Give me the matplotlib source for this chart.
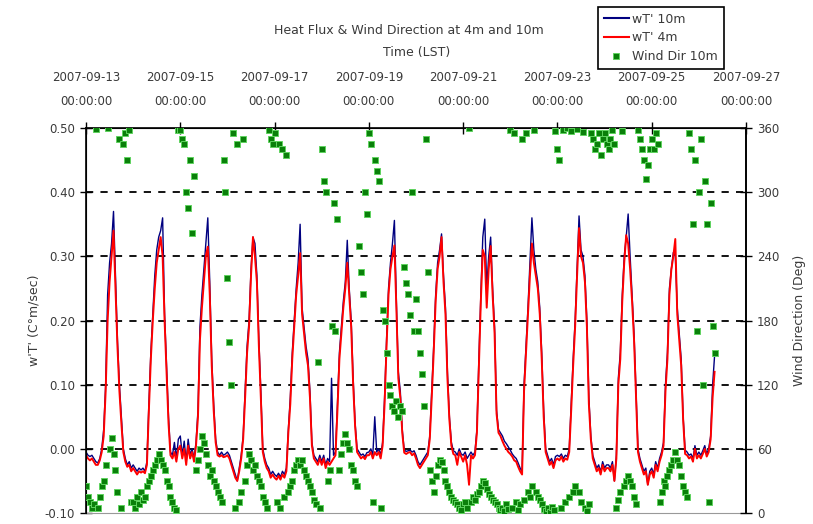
import numpy as np
import pandas as pd
import matplotlib
matplotlib.use("Agg")
import matplotlib.pyplot as plt
from matplotlib.lines import Line2D

# hourly values from 2007-09-13 00:00 (LST), one row per day
wt_10m = [
    -0.005, -0.01, -0.012, -0.01, -0.015, -0.02, -0.022, -0.015, 0.0, 0.03, 0.10, 0.24, 0.29, 0.32, 0.37, 0.27, 0.17, 0.10, 0.05, 0.0, -0.015, -0.025, -0.02, -0.03,  # 13
    -0.025, -0.03, -0.035, -0.03, -0.033, -0.03, -0.035, -0.02, 0.07, 0.15, 0.21, 0.27, 0.31, 0.33, 0.34, 0.36, 0.21, 0.13, 0.05, -0.005, -0.01, 0.01, -0.015, 0.015,  # 14
    0.02, -0.01, 0.012, -0.02, 0.015, -0.01, 0.0, -0.015, 0.01, 0.06, 0.19, 0.24, 0.28, 0.32, 0.36, 0.26, 0.14, 0.07, 0.015, -0.005, -0.01, -0.005, -0.01, -0.008,  # 15
    -0.005, -0.01, -0.02, -0.03, -0.04, -0.05, -0.03, -0.01, 0.02, 0.09, 0.16, 0.20, 0.28, 0.33, 0.32, 0.27, 0.17, 0.09, 0.0, -0.015, -0.025, -0.03, -0.04, -0.035,  # 16
    -0.04, -0.043, -0.038, -0.044, -0.035, -0.04, -0.03, 0.03, 0.08, 0.15, 0.20, 0.25, 0.29, 0.35, 0.22, 0.19, 0.16, 0.14, 0.09, 0.01, -0.01, -0.015, -0.02, -0.01,  # 17
    -0.02, -0.01, -0.025, -0.015, -0.02, 0.11, -0.01, -0.005, 0.07, 0.15, 0.19, 0.23, 0.26, 0.325, 0.25, 0.20, 0.11, 0.04, 0.0, -0.005, -0.01, -0.008, -0.012, -0.006,  # 18
    -0.005, 0.0, -0.01, 0.05, -0.005, 0.0, -0.01, 0.01, 0.08, 0.17, 0.25, 0.29, 0.32, 0.356, 0.23, 0.12, 0.09, 0.03, -0.002, -0.004, -0.003, -0.002, -0.005, -0.003,  # 19
    -0.01, -0.02, -0.025, -0.02, -0.015, -0.01, -0.005, 0.02, 0.09, 0.16, 0.24, 0.29, 0.31, 0.335, 0.27, 0.22, 0.12, 0.05, 0.01, -0.003, -0.005, -0.01, 0.0, -0.008,  # 20
    -0.01, -0.005, -0.015, -0.01, -0.005, -0.01, -0.005, 0.03, 0.14, 0.24, 0.33, 0.358, 0.25, 0.30, 0.33, 0.25, 0.19, 0.06, 0.03, 0.025, 0.02, 0.012, 0.008, 0.003,  # 21
    -0.002, -0.008, -0.012, -0.015, -0.022, -0.03, -0.036, 0.10, 0.16, 0.22, 0.29, 0.36, 0.31, 0.28, 0.26, 0.22, 0.15, 0.06, 0.0, -0.01, -0.02, -0.015, -0.025, -0.012,  # 22
    -0.01, -0.012, -0.008, -0.015, -0.01, -0.012, 0.0, 0.07, 0.14, 0.20, 0.28, 0.363, 0.31, 0.30, 0.27, 0.20, 0.08, 0.02, -0.01, -0.02, -0.03, -0.025, -0.036, -0.02,  # 23
    -0.03, -0.025, -0.025, -0.03, -0.02, -0.05, -0.01, 0.11, 0.15, 0.24, 0.30, 0.33, 0.366, 0.30, 0.24, 0.18, 0.09, 0.0, -0.015, -0.025, -0.035, -0.03, -0.056, -0.035,  # 24
    -0.03, -0.04, -0.02, -0.03, -0.015, -0.005, 0.01, 0.10, 0.15, 0.25, 0.28, 0.306, 0.30, 0.22, 0.18, 0.14, 0.05, -0.002, -0.005, -0.01, -0.008, -0.015, 0.005, -0.01,  # 25
    -0.005, -0.01, -0.003, 0.005, -0.008, 0.0, 0.02, 0.10, 0.145,  # 26
]

wt_4m = [
    -0.01, -0.015, -0.018, -0.015, -0.02, -0.025, -0.025, -0.018, -0.005, 0.02, 0.09, 0.20, 0.26, 0.30, 0.34, 0.25, 0.16, 0.09, 0.04, -0.005, -0.02, -0.028, -0.025, -0.035,
    -0.03, -0.035, -0.04, -0.035, -0.037, -0.035, -0.038, -0.025, 0.06, 0.14, 0.20, 0.25, 0.29, 0.31, 0.33, 0.30, 0.20, 0.12, 0.04, -0.01, -0.015, -0.005, -0.02, 0.0,
    0.005, -0.015, 0.0, -0.025, 0.005, -0.015, -0.005, -0.02, 0.005, 0.05, 0.17, 0.22, 0.26, 0.30, 0.315, 0.24, 0.13, 0.06, 0.01, -0.01, -0.012, -0.01, -0.013, -0.012,
    -0.01, -0.015, -0.025, -0.035, -0.045, -0.05, -0.035, -0.015, 0.015, 0.08, 0.15, 0.19, 0.27, 0.33, 0.30, 0.26, 0.16, 0.08, -0.005, -0.02, -0.03, -0.035, -0.045, -0.04,
    -0.045, -0.048, -0.042, -0.048, -0.04, -0.045, -0.035, 0.025, 0.07, 0.14, 0.19, 0.24, 0.27, 0.305, 0.21, 0.18, 0.15, 0.13, 0.08, 0.005, -0.015, -0.02, -0.025, -0.015,
    -0.025, -0.015, -0.03, -0.02, -0.025, -0.02, -0.015, -0.01, 0.06, 0.14, 0.18, 0.22, 0.25, 0.29, 0.24, 0.19, 0.10, 0.035, -0.005, -0.01, -0.015, -0.012, -0.016, -0.01,
    -0.01, -0.005, -0.015, -0.005, -0.01, -0.005, -0.015, 0.005, 0.07, 0.16, 0.24, 0.28, 0.30, 0.317, 0.22, 0.11, 0.08, 0.025, -0.006, -0.008, -0.006, -0.005, -0.01, -0.007,
    -0.015, -0.025, -0.03, -0.025, -0.02, -0.015, -0.01, 0.015, 0.08, 0.15, 0.23, 0.28, 0.30, 0.33, 0.26, 0.21, 0.11, 0.045, 0.005, -0.008, -0.01, -0.025, -0.005, -0.012,
    -0.02, -0.01, -0.025, -0.056, -0.01, -0.015, -0.01, 0.025, 0.13, 0.23, 0.31, 0.30, 0.22, 0.28, 0.316, 0.24, 0.18, 0.055, 0.025, 0.02, 0.012, 0.005, 0.0, -0.005,
    -0.008, -0.012, -0.018, -0.02, -0.028, -0.035, -0.04, 0.09, 0.15, 0.21, 0.27, 0.32, 0.29, 0.27, 0.25, 0.21, 0.14, 0.05, -0.005, -0.015, -0.025, -0.02, -0.03, -0.018,
    -0.015, -0.018, -0.012, -0.02, -0.015, -0.017, -0.005, 0.06, 0.13, 0.19, 0.27, 0.344, 0.30, 0.29, 0.26, 0.19, 0.07, 0.015, -0.015, -0.025, -0.035, -0.03, -0.04, -0.025,
    -0.035, -0.03, -0.03, -0.035, -0.025, -0.05, -0.015, 0.10, 0.14, 0.23, 0.29, 0.333, 0.32, 0.28, 0.23, 0.17, 0.08, -0.005, -0.02, -0.03, -0.04, -0.035, -0.056, -0.04,
    -0.035, -0.045, -0.025, -0.035, -0.02, -0.01, 0.005, 0.09, 0.14, 0.24, 0.28, 0.30, 0.327, 0.21, 0.17, 0.13, 0.045, -0.008, -0.01, -0.015, -0.012, -0.02, 0.0, -0.015,
    -0.01, -0.015, -0.008, 0.0, -0.012, -0.005, 0.015, 0.08, 0.12,
]

wind_dir_10m = [
    25, 15, 10, 5, 8, 359, 5, 15, 25, 30, 45, 360, 60, 70, 55, 40, 20, 350, 5, 345, 355, 330, 358, 10,
    10, 5, 15, 8, 20, 12, 15, 25, 30, 35, 40, 45, 50, 55, 50, 45, 40, 30, 25, 15, 10, 5, 3, 358,
    358, 350, 345, 300, 285, 330, 262, 315, 40, 50, 60, 72, 65, 55, 45, 35, 40, 30, 25, 20, 15, 10, 330, 300,
    220, 160, 120, 355, 5, 345, 10, 20, 350, 30, 45, 55, 50, 40, 45, 35, 30, 25, 15, 10, 5, 358, 350, 345,
    355, 10, 345, 5, 340, 15, 335, 20, 25, 30, 40, 45, 50, 45, 50, 40, 35, 30, 25, 20, 12, 8, 141, 5,
    340, 310, 300, 30, 40, 175, 290, 170, 275, 40, 55, 65, 74, 65, 60, 45, 40, 30, 25, 250, 225, 205, 300, 280,
    355, 345, 10, 330, 320, 310, 5, 190, 180, 150, 120, 110, 100, 95, 105, 90, 100, 95, 230, 215, 205, 185, 300, 170,
    200, 170, 150, 130, 100, 350, 225, 40, 30, 20, 35, 45, 50, 48, 40, 30, 25, 20, 15, 12, 10, 8, 5, 3,
    8, 10, 5, 360, 10, 15, 12, 18, 20, 25, 30, 28, 22, 18, 15, 12, 10, 8, 5, 3, 5, 2, 8, 4,
    358, 5, 355, 10, 3, 8, 350, 12, 355, 20, 15, 25, 358, 20, 15, 12, 8, 4, 2, 5, 1, 6, 3, 357,
    340, 330, 5, 358, 10, 360, 15, 357, 20, 25, 359, 20, 10, 356, 5, 2, 8, 355, 350, 340, 345, 355, 335, 350,
    355, 345, 340, 350, 358, 345, 5, 12, 20, 357, 25, 30, 35, 30, 25, 15, 8, 358, 350, 340, 330, 312, 325, 340,
    350, 340, 355, 345, 10, 20, 30, 25, 35, 40, 45, 50, 57, 50, 45, 35, 25, 20, 15, 355, 340, 270, 330, 170,
    300, 350, 120, 310, 270, 10, 290, 175, 150,
]

tick_dates = pd.date_range("2007-09-13", "2007-09-27", freq="2D")
times = pd.date_range("2007-09-13 00:00", periods=len(wt_10m), freq="h")

txt = "#3a3a3a"
plt.rcParams["font.family"] = ["DejaVu Sans"]

fig = plt.figure(figsize=(8.13, 5.24), dpi=100)
ax = fig.add_axes([0.1058, 0.021, 0.8118, 0.7347])

ax.plot(times, wt_10m, color="#000080", lw=1.0, zorder=3)
ax.plot(times, wt_4m, color="#ff0000", lw=1.4, zorder=4)

ax.set_ylim(-0.10, 0.50)
ax.set_yticks(np.arange(-0.10, 0.51, 0.10))
ax.yaxis.set_major_formatter(plt.FormatStrFormatter("%.2f"))
ax.set_xlim(tick_dates[0], tick_dates[-1])
ax.set_xticks(tick_dates)
ax.set_xticklabels([d.strftime("%Y-%m-%d") + "\n00:00:00" for d in tick_dates], linespacing=2.1)
ax.xaxis.tick_top()
ax.tick_params(axis="x", direction="inout", length=9, width=1, pad=10, labelsize=8.5, colors=txt)
ax.tick_params(axis="x", color="black")
ax.tick_params(axis="y", direction="inout", length=9, width=1, labelsize=8.5, labelcolor=txt)

for v in [0.0, 0.1, 0.2, 0.3, 0.4]:
    ax.axhline(v, color="black", lw=1.3, ls=(0, (4, 4)), zorder=2)

for s in ["left", "top", "right"]:
    ax.spines[s].set_linewidth(1.2)
ax.spines["bottom"].set_color("#999999")
ax.set_ylabel("w'T' (C°m/sec)", fontsize=9, color=txt, labelpad=3)

ax2 = ax.twinx()
ax2.plot(times, wind_dir_10m, ls="none", marker="s", ms=4, mfc="#0a800a", mec="#5fd35f", mew=0.7, zorder=5)
ax2.set_ylim(0, 360)
ax2.set_yticks(np.arange(0, 361, 60))
ax2.tick_params(axis="y", direction="inout", length=9, width=1, labelsize=8.5, labelcolor=txt)
ax2.spines["right"].set_linewidth(1.2)
ax2.spines["bottom"].set_visible(False)
ax2.set_ylabel("Wind Direction (Deg)", fontsize=9, color=txt, labelpad=10)

fig.text(0.503, 0.941, "Heat Flux & Wind Direction at 4m and 10m", ha="center", va="center", fontsize=9, color=txt)
fig.text(0.512, 0.900, "Time (LST)", ha="center", va="center", fontsize=9, color=txt)

handles = [
    Line2D([], [], color="#000080", lw=1.5),
    Line2D([], [], color="#ff0000", lw=1.5),
    Line2D([], [], ls="none", marker="s", ms=4, mfc="#0a800a", mec="#5fd35f", mew=0.7),
]
leg = fig.legend(handles, ["wT' 10m", "wT' 4m", "Wind Dir 10m"], loc="upper left",
                 bbox_to_anchor=(0.7355, 0.9866), borderaxespad=0, fontsize=9,
                 handlelength=2.0, handletextpad=0.3, borderpad=0.45, labelspacing=0.45,
                 fancybox=False, framealpha=1, edgecolor="black")
leg.get_frame().set_linewidth(1.2)
for t in leg.get_texts():
    t.set_color(txt)

fig.savefig("out.png", dpi=100)
